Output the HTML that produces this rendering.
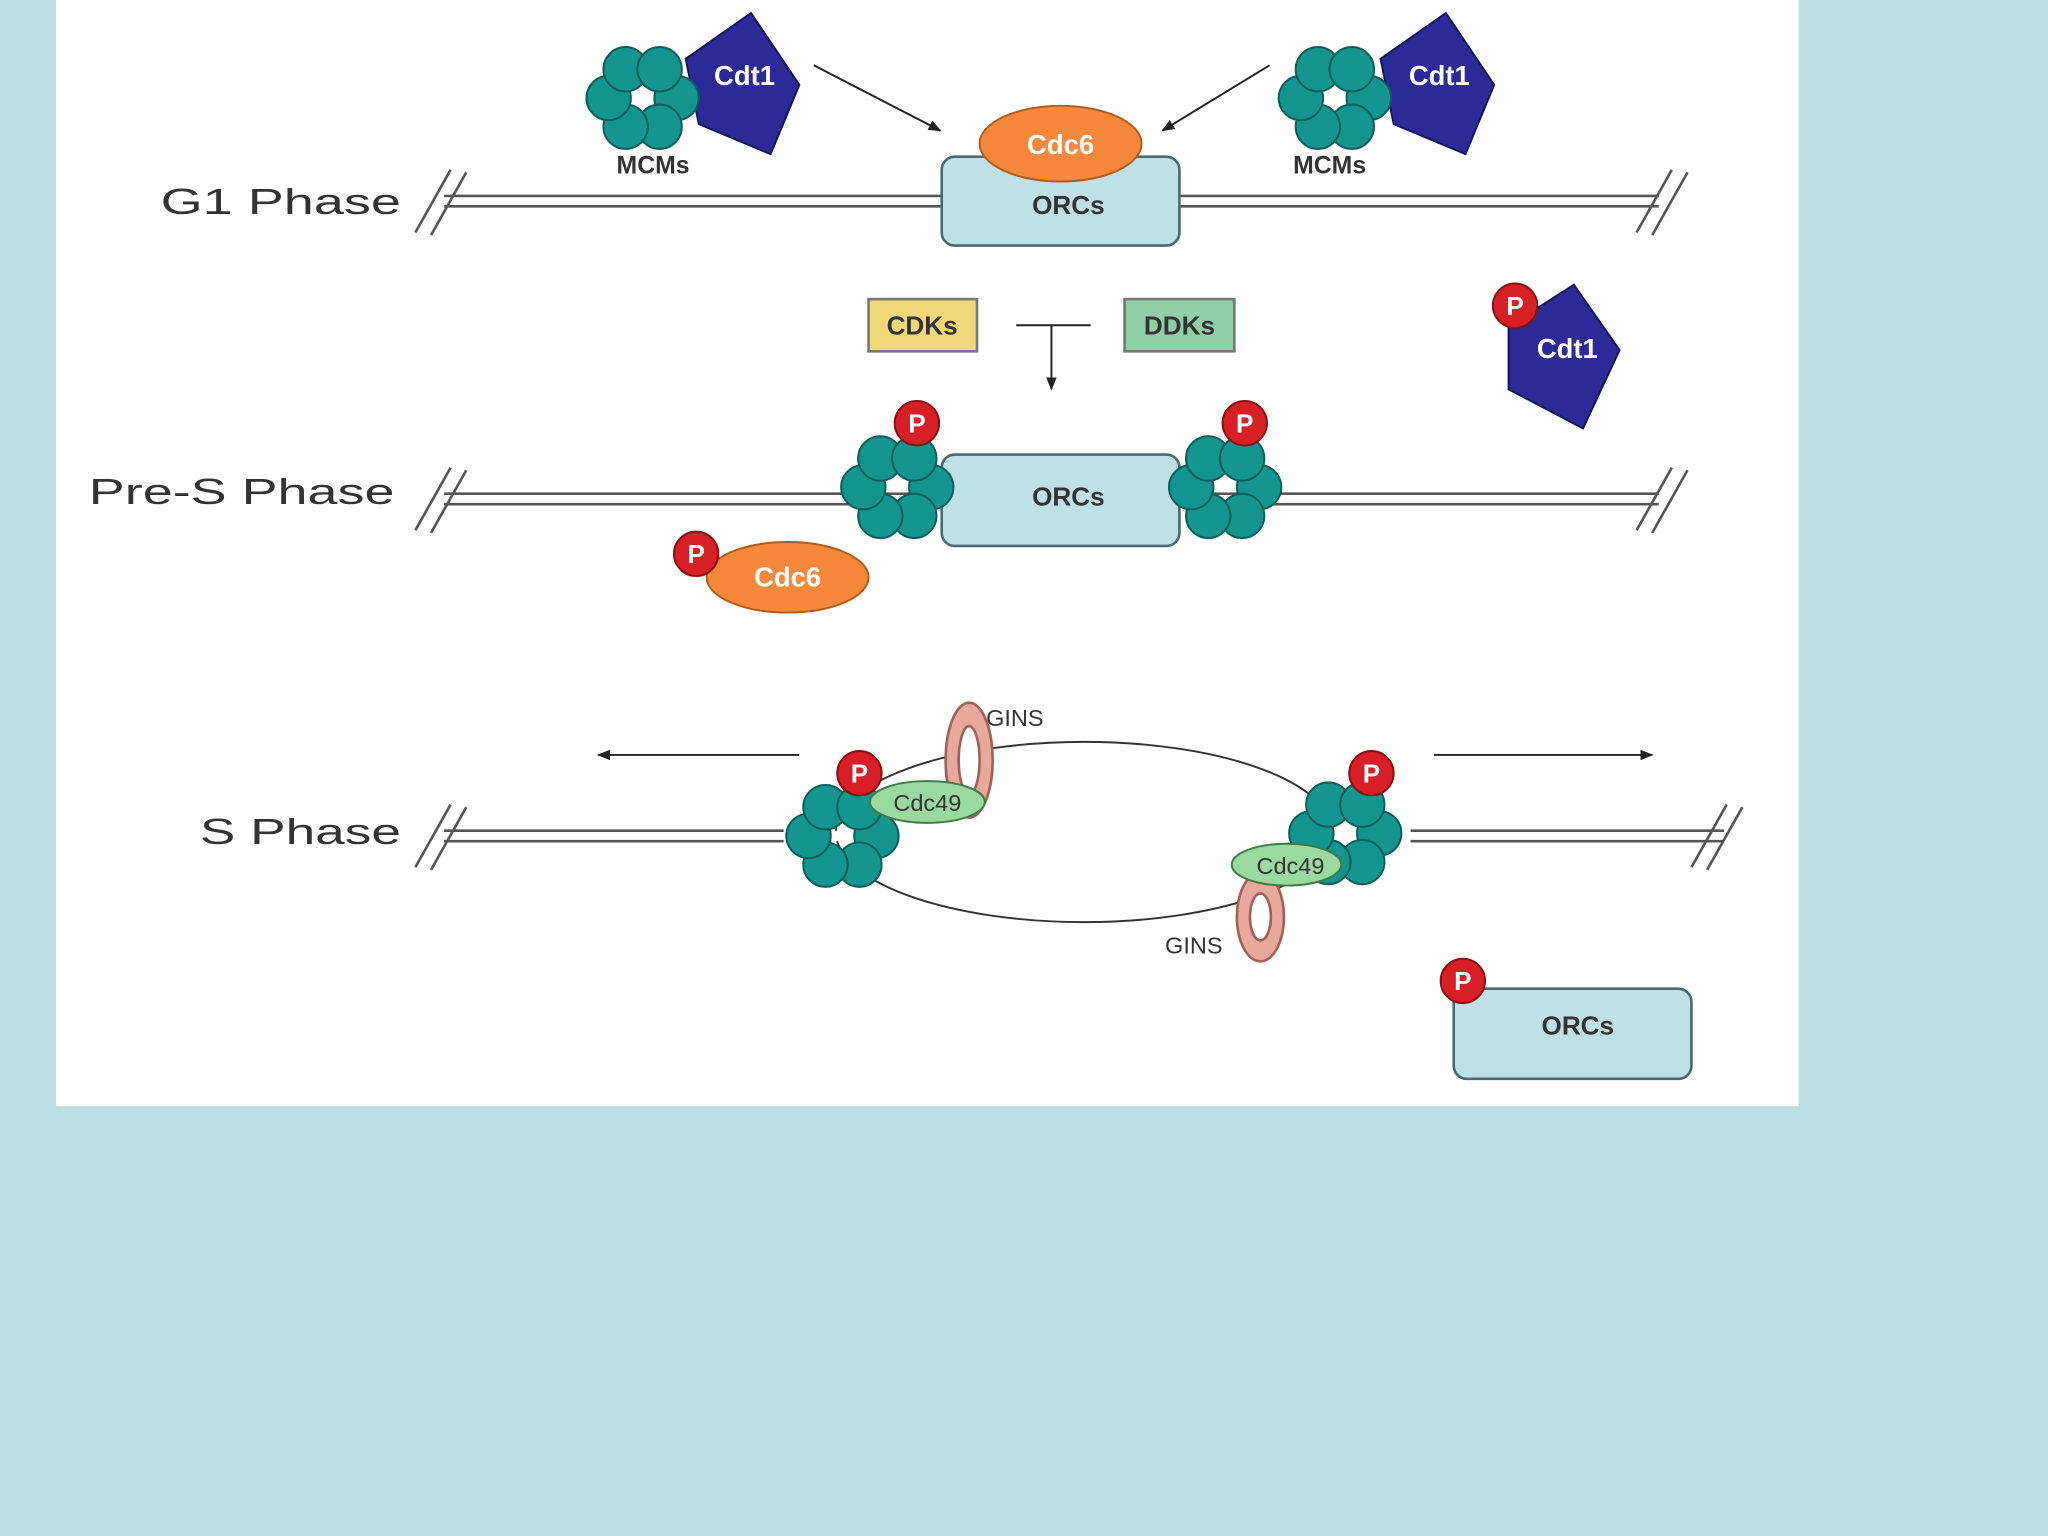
<!DOCTYPE html>
<html><head><meta charset="utf-8"><style>
html,body{margin:0;padding:0;background:#bde0e3;}
svg{display:block;}
text{font-family:"Liberation Sans",sans-serif;}
</style></head><body>
<svg width="2048" height="1536" viewBox="0 0 1568 1176" xmlns="http://www.w3.org/2000/svg">
<defs>
<g id="mcm">
<circle cx="26" cy="0" r="17" fill="#14958f" stroke="#0b5e5a" stroke-width="1.5"/>
<circle cx="13" cy="22" r="17" fill="#14958f" stroke="#0b5e5a" stroke-width="1.5"/>
<circle cx="-13" cy="22" r="17" fill="#14958f" stroke="#0b5e5a" stroke-width="1.5"/>
<circle cx="-26" cy="0" r="17" fill="#14958f" stroke="#0b5e5a" stroke-width="1.5"/>
<circle cx="-13" cy="-22" r="17" fill="#14958f" stroke="#0b5e5a" stroke-width="1.5"/>
<circle cx="13" cy="-22" r="17" fill="#14958f" stroke="#0b5e5a" stroke-width="1.5"/>
<rect x="-6" y="-4" width="12" height="8" fill="#fff"/>
</g>
<g id="p"><circle r="17" fill="#d61f26" stroke="#8a0f12" stroke-width="1.5"/><text y="7" text-anchor="middle" font-size="20" font-weight="bold" fill="#fff">P</text></g>
<marker id="ah" markerWidth="10" markerHeight="8" refX="9" refY="4" orient="auto" markerUnits="userSpaceOnUse"><path d="M0,0L10,4L0,8z" fill="#222"/></marker>
</defs>
<rect x="43" y="0" width="1334" height="847" fill="#fff"/>
<g stroke="#555" stroke-width="2" fill="none">
<path d="M340 150H1270M340 158H1270"/>
<path d="M318 178L345 130M330 180L357 132M1253 178L1280 130M1265 180L1292 132"/>
<path d="M340 378H1270M340 386H1270"/>
<path d="M318 406L345 358M330 408L357 360M1253 406L1280 358M1265 408L1292 360"/>
<path d="M340 636H600M340 644H600M1080 636H1320M1080 644H1320"/>
<path d="M318 664L345 616M330 666L357 618M1295 664L1322 616M1307 666L1334 618"/>
</g>
<g font-size="28" fill="#333" style="font-family:'DejaVu Sans',sans-serif">
<text x="123" y="164" textLength="184" lengthAdjust="spacingAndGlyphs">G1 Phase</text>
<text x="68" y="386" textLength="234" lengthAdjust="spacingAndGlyphs">Pre-S Phase</text>
<text x="153" y="646" textLength="154" lengthAdjust="spacingAndGlyphs">S Phase</text>
</g>
<rect x="721" y="120" width="182" height="68" rx="10" fill="#bfe0e6" stroke="#4c6a6d" stroke-width="2"/>
<text x="818" y="164" text-anchor="middle" font-size="20" font-weight="bold" fill="#333">ORCs</text>
<ellipse cx="812" cy="110" rx="62" ry="29" fill="#f5883a" stroke="#b35a1a" stroke-width="1.5"/>
<text x="812" y="118" text-anchor="middle" font-size="21" font-weight="bold" fill="#fff">Cdc6</text>
<path d="M525 45L575 10L612 65L590 118L535 95z" fill="#2b2a96" stroke="#15145a" stroke-width="1.5"/>
<use href="#mcm" x="492" y="75"/>
<text x="570" y="65" text-anchor="middle" font-size="21" font-weight="bold" fill="#fff">Cdt1</text>
<text x="500" y="133" text-anchor="middle" font-size="19" font-weight="bold" fill="#333">MCMs</text>
<path d="M1057 45L1107 10L1144 65L1122 118L1067 95z" fill="#2b2a96" stroke="#15145a" stroke-width="1.5"/>
<use href="#mcm" x="1022" y="75"/>
<text x="1102" y="65" text-anchor="middle" font-size="21" font-weight="bold" fill="#fff">Cdt1</text>
<text x="1018" y="133" text-anchor="middle" font-size="19" font-weight="bold" fill="#333">MCMs</text>
<g stroke="#222" stroke-width="1.5" fill="none">
<line x1="623" y1="50" x2="720" y2="100" marker-end="url(#ah)"/>
<line x1="972" y1="50" x2="890" y2="100" marker-end="url(#ah)"/>
<line x1="778" y1="249" x2="835" y2="249"/>
<line x1="805" y1="249" x2="805" y2="298" marker-end="url(#ah)"/>
<line x1="612" y1="578" x2="458" y2="578" marker-end="url(#ah)"/>
<line x1="1098" y1="578" x2="1265" y2="578" marker-end="url(#ah)"/>
</g>
<rect x="665" y="229" width="83" height="40" fill="#f0d878" stroke="#777" stroke-width="2"/>
<text x="706" y="256" text-anchor="middle" font-size="20" font-weight="bold" fill="#333">CDKs</text>
<rect x="861" y="229" width="84" height="40" fill="#8fd0a8" stroke="#777" stroke-width="2"/>
<text x="903" y="256" text-anchor="middle" font-size="20" font-weight="bold" fill="#333">DDKs</text>
<path d="M1155 250L1205 218L1240 268L1212 328L1155 298z" fill="#2b2a96" stroke="#15145a" stroke-width="1.5"/>
<text x="1200" y="274" text-anchor="middle" font-size="21" font-weight="bold" fill="#fff">Cdt1</text>
<use href="#p" x="1160" y="234"/>
<rect x="721" y="348" width="182" height="70" rx="10" fill="#bfe0e6" stroke="#4c6a6d" stroke-width="2"/>
<text x="818" y="387" text-anchor="middle" font-size="20" font-weight="bold" fill="#333">ORCs</text>
<use href="#mcm" x="687" y="373"/>
<use href="#mcm" x="938" y="373"/>
<use href="#p" x="702" y="324"/>
<use href="#p" x="953" y="324"/>
<ellipse cx="603" cy="442" rx="62" ry="27" fill="#f5883a" stroke="#b35a1a" stroke-width="1.5"/>
<text x="603" y="449" text-anchor="middle" font-size="21" font-weight="bold" fill="#fff">Cdc6</text>
<use href="#p" x="533" y="424"/>
<ellipse cx="830" cy="637" rx="190" ry="69" fill="none" stroke="#333" stroke-width="1.5"/>
<use href="#mcm" x="645" y="640"/>
<use href="#mcm" x="1030" y="638"/>
<ellipse cx="742" cy="582" rx="18" ry="44" fill="#e8a89c" stroke="#a06058" stroke-width="2"/>
<ellipse cx="742" cy="582" rx="8" ry="26" fill="#fff" stroke="#a06058" stroke-width="2"/>
<ellipse cx="710" cy="614" rx="44" ry="16" fill="#9ad9a0" stroke="#3f7a45" stroke-width="1.5"/>
<text x="710" y="621" text-anchor="middle" font-size="18" fill="#333">Cdc49</text>
<ellipse cx="965" cy="702" rx="18" ry="34" fill="#e8a89c" stroke="#a06058" stroke-width="2"/>
<ellipse cx="965" cy="702" rx="8" ry="18" fill="#fff" stroke="#a06058" stroke-width="2"/>
<ellipse cx="985" cy="662" rx="42" ry="16" fill="#9ad9a0" stroke="#3f7a45" stroke-width="1.5"/>
<text x="988" y="669" text-anchor="middle" font-size="18" fill="#333">Cdc49</text>
<use href="#p" x="658" y="592"/>
<use href="#p" x="1050" y="592"/>
<text x="755" y="556" font-size="18" fill="#333">GINS</text>
<text x="892" y="730" font-size="18" fill="#333">GINS</text>
<rect x="1113" y="757" width="182" height="69" rx="10" fill="#bfe0e6" stroke="#4c6a6d" stroke-width="2"/>
<text x="1208" y="792" text-anchor="middle" font-size="20" font-weight="bold" fill="#333">ORCs</text>
<use href="#p" x="1120" y="751"/>
</svg>
</body></html>
